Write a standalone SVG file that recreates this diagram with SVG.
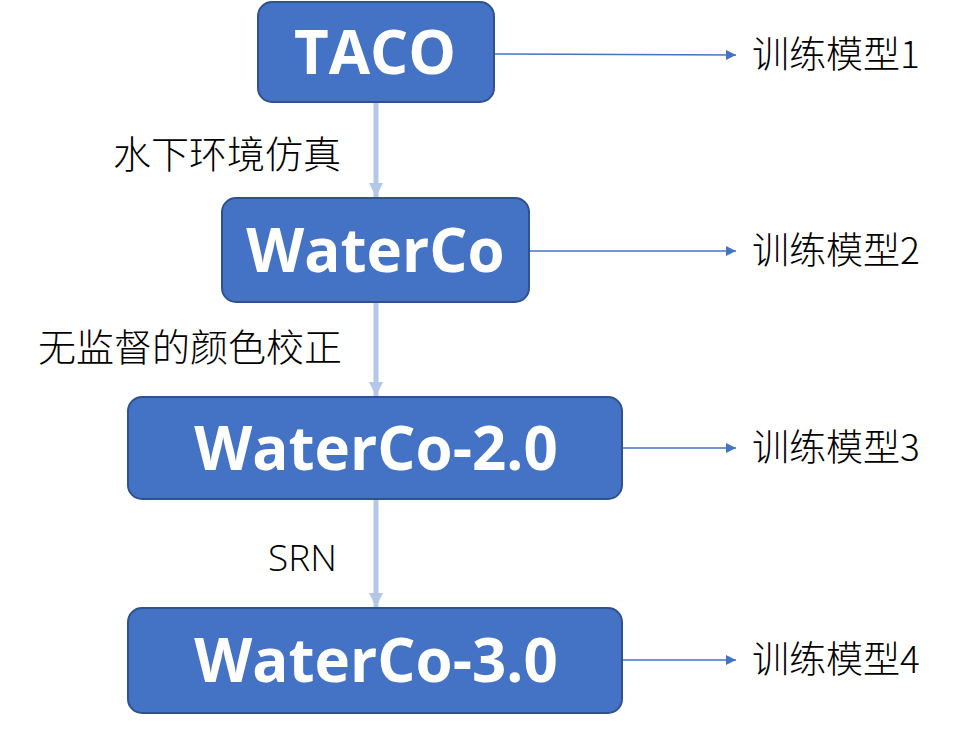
<svg xmlns="http://www.w3.org/2000/svg" width="971" height="731" viewBox="0 0 971 731">
<defs>
<marker id="ah" viewBox="0 0 10 10" refX="10" refY="5" markerWidth="10" markerHeight="10" markerUnits="userSpaceOnUse" orient="auto"><path d="M0,0 L10,5 L0,10 z" fill="#4472C4"/></marker>
<marker id="av" viewBox="0 0 10 10" refX="10" refY="5" markerWidth="14" markerHeight="16" markerUnits="userSpaceOnUse" orient="auto"><path d="M0,0 L10,5 L0,10 z" fill="#B4C7E7"/></marker>
</defs>
<style>
.box{fill:#4472C4;stroke:#2F528F;stroke-width:2}
.nt{fill:#fff;font-family:"Open Sans","Noto Sans",sans-serif;font-weight:bold;font-size:60px;text-anchor:middle}
.lb{fill:#000;font-family:"Noto Sans CJK SC","Noto Sans",sans-serif;font-weight:300;font-size:37px}
.ll{font-size:38px}
.h{stroke:#4472C4;stroke-width:1.5;fill:none}
.v{stroke:#B4C7E7;stroke-width:5;fill:none}
</style>
<rect width="971" height="731" fill="#fff"/>
<g id="connectors">
<line class="v" x1="376" y1="103" x2="376" y2="197" marker-end="url(#av)"/>
<line class="v" x1="376" y1="303" x2="376" y2="396" marker-end="url(#av)"/>
<line class="v" x1="376" y1="500" x2="376" y2="607" marker-end="url(#av)"/>
<line class="h" x1="494" y1="54" x2="736" y2="55" marker-end="url(#ah)"/>
<line class="h" x1="529" y1="251" x2="736" y2="251" marker-end="url(#ah)"/>
<line class="h" x1="622" y1="448" x2="736" y2="448" marker-end="url(#ah)"/>
<line class="h" x1="622" y1="660" x2="736" y2="660" marker-end="url(#ah)"/>
</g>
<g id="n1"><rect class="box" x="258" y="2" width="236" height="100" rx="14"/><text class="nt" x="375" y="74">TACO</text></g>
<g id="n2"><rect class="box" x="222" y="198" width="307" height="104" rx="14"/><text class="nt" x="375.5" y="272">WaterCo</text></g>
<g id="n3"><rect class="box" x="128" y="397" width="494" height="102" rx="14"/><text class="nt" x="376" y="470">WaterCo-2.0</text></g>
<g id="n4"><rect class="box" x="128" y="608" width="494" height="105" rx="14"/><text class="nt" x="376" y="682">WaterCo-3.0</text></g>
<g id="labels">
<text class="lb ll" x="113" y="168">水下环境仿真</text>
<text class="lb ll" x="38" y="361">无监督的颜色校正</text>
<text class="lb" x="268" y="571" style="font-family:'Open Sans','Noto Sans',sans-serif;font-size:37px">SRN</text>
<text class="lb" x="752" y="68">训练模型1</text>
<text class="lb" x="752" y="264">训练模型2</text>
<text class="lb" x="752" y="461">训练模型3</text>
<text class="lb" x="752" y="673">训练模型4</text>
</g>
</svg>
